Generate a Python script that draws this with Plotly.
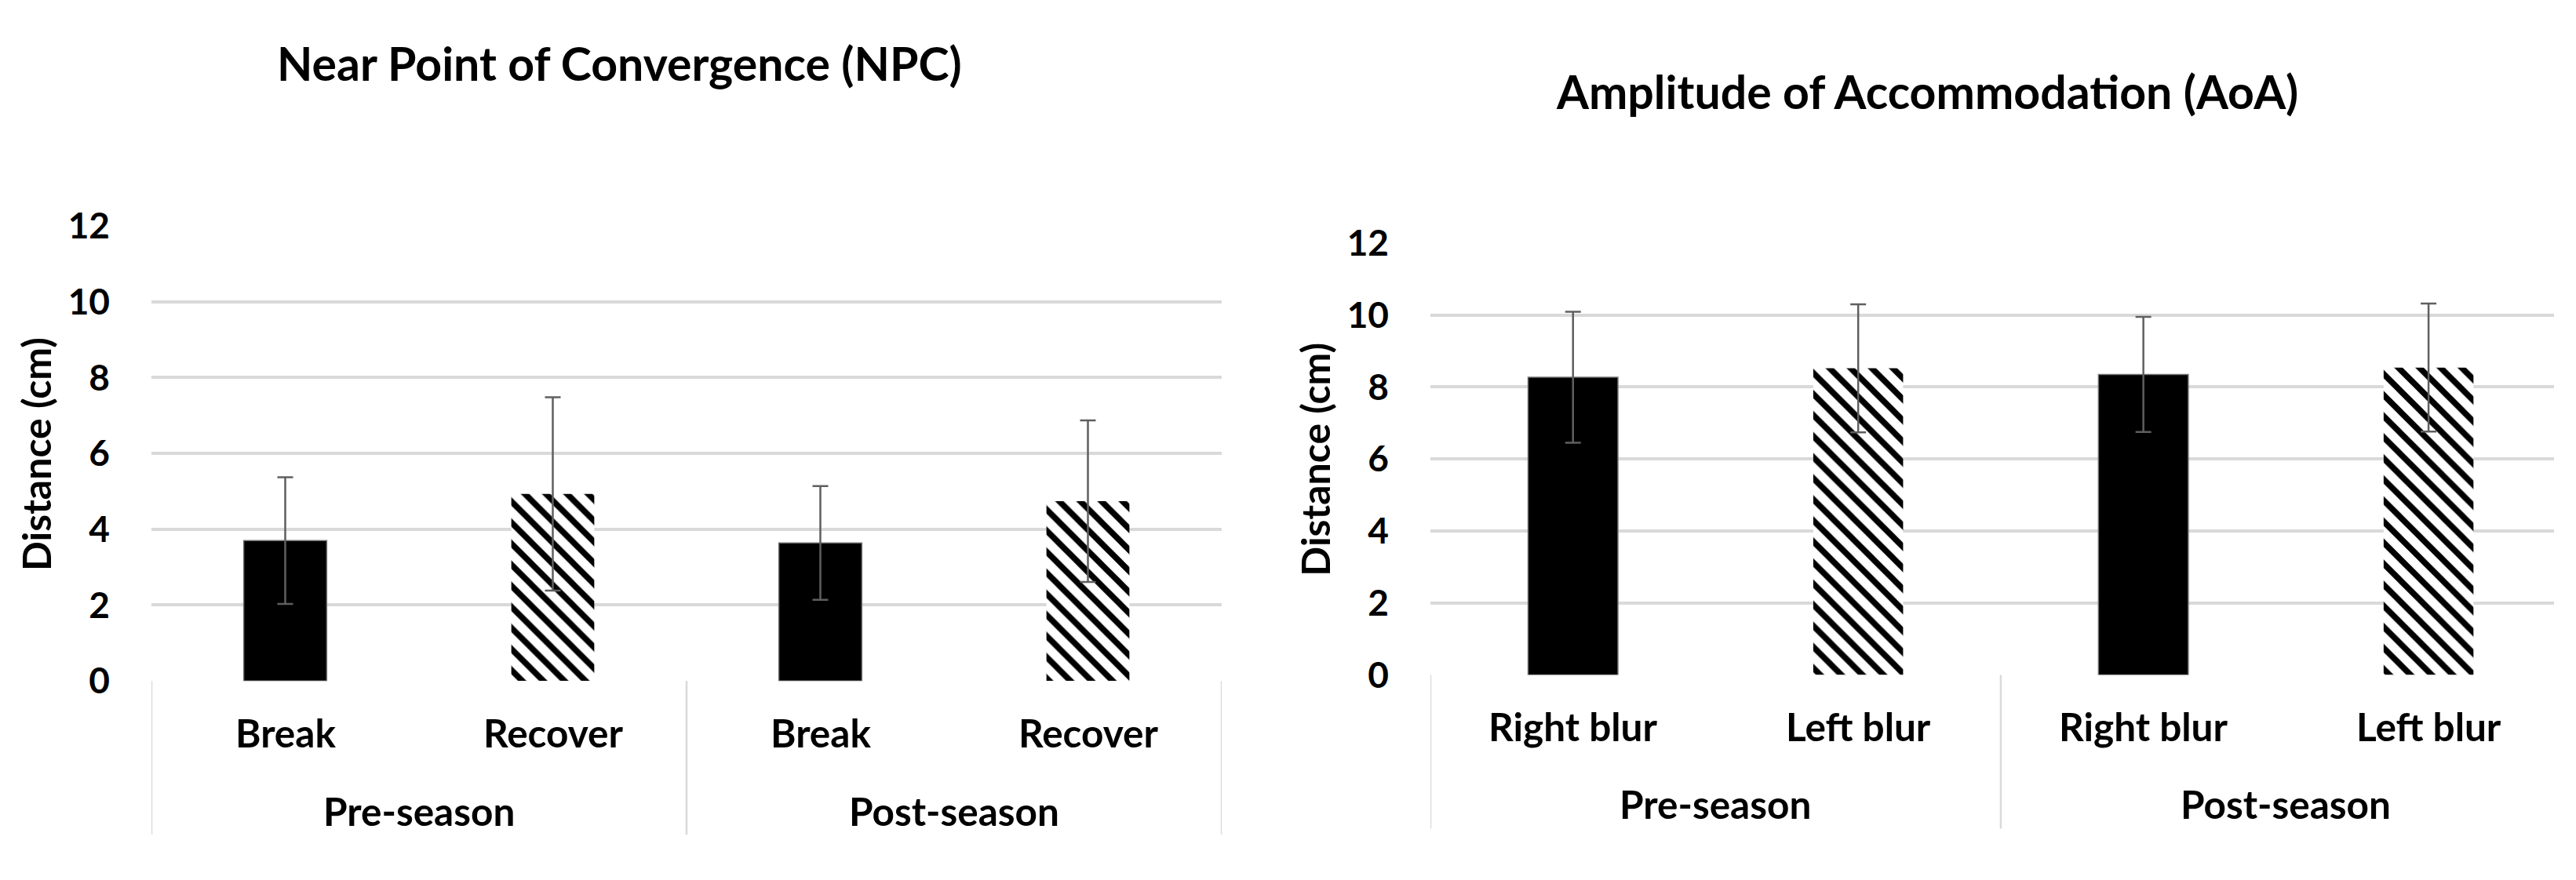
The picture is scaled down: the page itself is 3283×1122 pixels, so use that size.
import numpy as np
import plotly.graph_objects as go

# ---------------- data ----------------
npc_groups = ["Pre-season", "Pre-season", "Post-season", "Post-season"]
npc_measures = ["Break", "Recover", "Break", "Recover"]
npc_means = [3.70, 4.93, 3.64, 4.74]
npc_sd = [1.67, 2.55, 1.50, 2.13]

aoa_groups = ["Pre-season", "Pre-season", "Post-season", "Post-season"]
aoa_measures = ["Right blur", "Left blur", "Right blur", "Left blur"]
aoa_means = [8.27, 8.52, 8.35, 8.54]
aoa_sd = [1.82, 1.78, 1.60, 1.78]

y_ticks = [0, 2, 4, 6, 8, 10, 12]

# ---------------- layout helpers ----------------
W, H = 3283, 1122
OFF = 8  # page body margin offsets the figure by this many px
FONT = "Lato, 'Open Sans', sans-serif"


def fx(p):
    return (p - OFF) / W


def fy(p):
    return 1 - (p - OFF) / H


panels = [
    dict(title="Near Point of Convergence (NPC)", groups=npc_groups, measures=npc_measures,
         means=npc_means, sd=npc_sd, solid="Break", xa="x", ya="y",
         xdom=(193, 1557), ydom=(882, 272), xrange=[-0.5, 3.5], bw=0.31,
         title_xy=(789, 54), ytitle_xy=(46, 578), cat_y=951, grp_y=1056, div_bottom=1088),
    dict(title="Amplitude of Accommodation (AoA)", groups=aoa_groups, measures=aoa_measures,
         means=aoa_means, sd=aoa_sd, solid="Right blur", xa="x2", ya="y2",
         xdom=(1823, 3255), ydom=(874, 295), xrange=[-0.5, 3.44], bw=0.315,
         title_xy=(2456, 92), ytitle_xy=(1676, 585), cat_y=943, grp_y=1047, div_bottom=1080),
]

fig = go.Figure()
annotations = []
shapes = []
layout_axes = {}

for i, p in enumerate(panels):
    n = len(p["means"])
    xs = np.arange(n)
    means = np.array(p["means"])
    sd = np.array(p["sd"])
    meas = np.array(p["measures"])
    solid = meas == p["solid"]
    hatch = ~solid

    fig.add_trace(go.Bar(
        x=xs[solid], y=means[solid], width=p["bw"], xaxis=p["xa"], yaxis=p["ya"],
        marker=dict(color="black", line=dict(color="#6f6f6f", width=1.5)),
        error_y=dict(type="data", array=sd[solid], color="#5f5f5f", thickness=2.5, width=10),
        showlegend=False))
    fig.add_trace(go.Bar(
        x=xs[hatch], y=means[hatch], width=p["bw"], xaxis=p["xa"], yaxis=p["ya"],
        marker=dict(color="white", line=dict(width=0),
                    pattern=dict(shape="\\", fgcolor="black", bgcolor="white", fgopacity=1,
                                 size=19, solidity=0.4)),
        error_y=dict(type="data", array=sd[hatch], color="#5f5f5f", thickness=2.5, width=10),
        showlegend=False))

    xkey = "xaxis" if i == 0 else "xaxis2"
    ykey = "yaxis" if i == 0 else "yaxis2"
    layout_axes[xkey] = dict(domain=[fx(p["xdom"][0]), fx(p["xdom"][1])], range=p["xrange"],
                             showticklabels=False, showgrid=False, zeroline=False,
                             ticks="", anchor=p["ya"])
    layout_axes[ykey] = dict(domain=[fy(p["ydom"][0]), fy(p["ydom"][1])], range=[0, 12],
                             tickvals=y_ticks, showgrid=True, gridcolor="#d9d9d9", gridwidth=3.5,
                             zeroline=False, showline=False, ticks="",
                             tickfont=dict(family=FONT, size=46, color="black", weight=700),
                             ticklabelstandoff=52, anchor=p["xa"])

    # category labels
    for j in range(n):
        annotations.append(dict(x=j, y=fy(p["cat_y"]), xref=p["xa"], yref="paper",
                                text=p["measures"][j], showarrow=False, yanchor="middle",
                                font=dict(family=FONT, size=49.5, color="black", weight=700)))
    # group labels + dividers
    groups = p["groups"]
    uniq = []
    for g in groups:
        if g not in uniq:
            uniq.append(g)
    bounds = []
    for g in uniq:
        idx = [j for j in range(n) if groups[j] == g]
        annotations.append(dict(x=float(np.mean(idx)), y=fy(p["grp_y"]), xref=p["xa"], yref="paper",
                                text=g, showarrow=False, yanchor="middle",
                                font=dict(family=FONT, size=49.5, color="black", weight=700)))
        bounds.extend([idx[0] - 0.5, idx[-1] + 0.5])
    for b in sorted(set(bounds)):
        if p["xrange"][0] - 1e-9 <= b <= p["xrange"][1] + 1e-9:
            shapes.append(dict(type="line", xref=p["xa"], yref="paper", x0=b, x1=b,
                               y0=fy(p["ydom"][0]), y1=fy(p["div_bottom"]),
                               line=dict(color="#d9d9d9", width=2.5)))
    # titles
    annotations.append(dict(x=fx(p["title_xy"][0]), y=fy(p["title_xy"][1]), xref="paper", yref="paper",
                            text=p["title"], showarrow=False, xanchor="center", yanchor="middle",
                            font=dict(family=FONT, size=59, color="black", weight=700)))
    annotations.append(dict(x=fx(p["ytitle_xy"][0]), y=fy(p["ytitle_xy"][1]), xref="paper", yref="paper",
                            text="Distance (cm)", showarrow=False, textangle=-90,
                            xanchor="center", yanchor="middle",
                            font=dict(family=FONT, size=50, color="black", weight=700)))

fig.update_layout(
    width=W, height=H, margin=dict(l=0, r=0, t=0, b=0),
    paper_bgcolor="white", plot_bgcolor="white",
    barmode="overlay", annotations=annotations, shapes=shapes,
    **layout_axes)

fig.write_html("out.html")
